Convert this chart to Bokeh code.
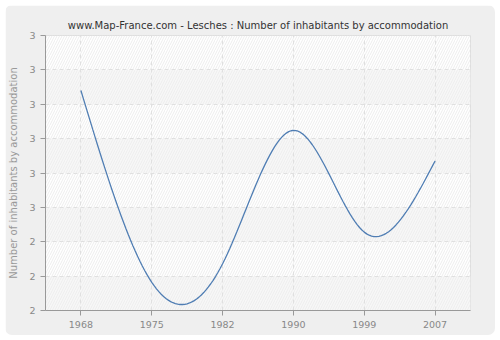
import numpy as np
from bokeh.plotting import figure
from bokeh.models import FixedTicker, BoxAnnotation, Range1d
from bokeh.embed import file_html
from bokeh.resources import INLINE

# ---- data ----
years = ["1968", "1975", "1982", "1990", "1999", "2007"]
values = [2.84, 2.282, 2.336, 2.724, 2.428, 2.635]
y_ticks = [2.2, 2.3, 2.4, 2.5, 2.6, 2.7, 2.8, 2.9, 3.0]
y_tick_labels = ["2", "2", "2", "3", "3", "3", "3", "3", "3"]
title_text = "www.Map-France.com - Lesches : Number of inhabitants by accommodation"
y_label = "Number of inhabitants by accommodation"


def natural_spline(xs, ys, n=30):
    xs = np.asarray(xs, float)
    ys = np.asarray(ys, float)
    m = len(xs)
    h = np.diff(xs)
    A = np.zeros((m, m))
    b = np.zeros(m)
    A[0, 0] = 1
    A[-1, -1] = 1
    for i in range(1, m - 1):
        A[i, i - 1] = h[i - 1]
        A[i, i] = 2 * (h[i - 1] + h[i])
        A[i, i + 1] = h[i]
        b[i] = 6 * ((ys[i + 1] - ys[i]) / h[i] - (ys[i] - ys[i - 1]) / h[i - 1])
    M = np.linalg.solve(A, b)
    out_x, out_y = [], []
    for i in range(m - 1):
        t = np.linspace(0, 1, n, endpoint=(i == m - 2))
        xx = xs[i] + t * h[i]
        a = 1 - t
        yy = (a * ys[i] + t * ys[i + 1]
              + ((a ** 3 - a) * M[i] + (t ** 3 - t) * M[i + 1]) * h[i] ** 2 / 6)
        out_x.extend(xx)
        out_y.extend(yy)
    return out_x, out_y


x_idx = list(range(len(years)))
sx, sy = natural_spline(x_idx, values)

p = figure(width=490, height=330, margin=(5, 5, 5, 5),
           output_backend="svg", toolbar_location=None,
           x_range=Range1d(-0.5, len(years) - 0.5),
           y_range=Range1d(y_ticks[0], y_ticks[-1]),
           min_border_left=35, min_border_right=25,
           min_border_top=30, min_border_bottom=25)
p.styles = {"border-radius": "7px", "overflow": "hidden"}
p.border_fill_color = "#efefef"
p.background_fill_color = "#ffffff"
p.outline_line_color = "#dedede"

p.title.text = title_text
p.title.align = "center"
p.title.text_font = "DejaVu Sans"
p.title.text_font_size = "10px"
p.title.text_font_style = "normal"
p.title.text_color = "#333333"

# alternating bands
for i in range(len(y_ticks) - 1):
    if i % 2 == 0:
        p.add_layout(BoxAnnotation(bottom=y_ticks[i], top=y_ticks[i + 1],
                                   fill_color="#f7f7f7", fill_alpha=1,
                                   line_alpha=0, level="image"))
p.add_layout(BoxAnnotation(fill_alpha=0, line_alpha=0,
                           hatch_pattern="/", hatch_color="#ededed",
                           hatch_scale=5, hatch_weight=1, hatch_alpha=1,
                           level="image"))

p.line(sx, sy, line_color="#4f7db3", line_width=1.3)

# axes
p.xaxis.ticker = FixedTicker(ticks=x_idx)
p.xaxis.major_label_overrides = {i: y for i, y in enumerate(years)}
p.yaxis.ticker = FixedTicker(ticks=y_ticks)
p.yaxis.major_label_overrides = dict(zip(y_ticks, y_tick_labels))
p.yaxis.axis_label = y_label

for ax in (p.xaxis, p.yaxis):
    ax.axis_line_color = "#999999"
    ax.major_tick_line_color = "#999999"
    ax.major_tick_out = 5
    ax.major_tick_in = 0
    ax.minor_tick_out = 0
    ax.minor_tick_in = 0
    ax.major_label_text_font = "DejaVu Sans"
    ax.major_label_text_font_size = "9.5px"
    ax.major_label_text_color = "#888888"
    ax.major_label_standoff = 5

p.yaxis.axis_label_text_font = "DejaVu Sans"
p.yaxis.axis_label_text_font_size = "10px"
p.yaxis.axis_label_text_font_style = "normal"
p.yaxis.axis_label_text_color = "#999999"
p.yaxis.axis_label_standoff = 7

p.xgrid.ticker = FixedTicker(ticks=x_idx)
p.ygrid.ticker = FixedTicker(ticks=y_ticks)
for g in (p.xgrid, p.ygrid):
    g.grid_line_color = "#e0e0e0"
    g.grid_line_dash = "4 3"
    g.grid_line_width = 1

open("out.html", "w").write(file_html(p, INLINE))
